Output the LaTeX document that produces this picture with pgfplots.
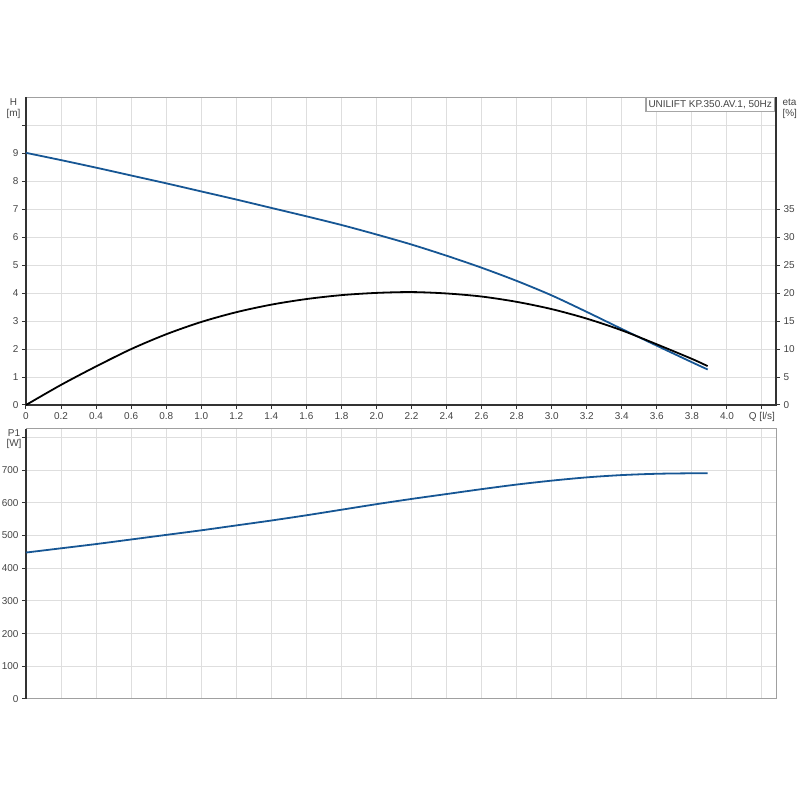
\documentclass[border=0pt]{standalone}
\usepackage{fontspec}
\setmainfont{Liberation Sans}
\usepackage{pgfplots}
\pgfplotsset{compat=1.18}

\definecolor{curveblue}{RGB}{22,86,148}
\definecolor{gridgray}{RGB}{222,222,222}
\definecolor{boxgray}{RGB}{160,160,160}
\definecolor{axisdark}{RGB}{51,51,51}
\definecolor{labelgray}{RGB}{68,68,68}

% H [m] over Q [l/s]
\pgfplotstableread{
Q H
0 9.02
0.2 8.76
0.4 8.49
0.6 8.21
0.8 7.93
1.0 7.64
1.2 7.35
1.4 7.05
1.6 6.75
1.8 6.44
2.0 6.10
2.2 5.74
2.4 5.34
2.6 4.91
2.8 4.44
3.0 3.92
3.2 3.33
3.4 2.72
3.6 2.12
3.8 1.53
3.89 1.27
}\headtable

% eta [%] over Q [l/s]
\pgfplotstableread{
Q eta
0 0
0.2 3.6
0.4 6.9
0.6 10.0
0.8 12.65
1.0 14.85
1.2 16.6
1.4 17.95
1.6 18.95
1.8 19.65
2.0 20.05
2.2 20.2
2.4 19.95
2.6 19.4
2.8 18.45
3.0 17.15
3.2 15.45
3.4 13.35
3.6 10.85
3.8 8.25
3.89 6.95
}\etatable

% P1 [W] over Q [l/s]
\pgfplotstableread{
Q P
0 448
0.2 461
0.4 474
0.6 488
0.8 502
1.0 516
1.2 531
1.4 546
1.6 562
1.8 579
2.0 596
2.2 612
2.4 627
2.6 642
2.8 656
3.0 668
3.2 678
3.4 685
3.6 689
3.8 690.5
3.89 690.5
}\powertable

\pgfplotsset{
  pumpbase/.style={
    scale only axis,
    width=750bp,
    xmin=0, xmax=4.28,
    xtick={0,0.2,...,4.2},
    grid=major,
    major grid style={gridgray, line width=1bp},
    axis line style={boxgray, line width=1bp},
    tick align=outside,
    major tick length=4bp,
    every tick/.style={axisdark, line width=1bp},
    tick label style={font=\fontsize{10}{12}\selectfont, text=labelgray},
    /pgf/number format/assume math mode=true,
    xtick pos=lower,
    ytick pos=left,
    clip=false,
  },
  pumpline/.style={line width=1.8bp, smooth},
}

\begin{document}
\begin{tikzpicture}
\useasboundingbox (0,0) rectangle (800bp,800bp);

% upper panel: H and eta
\begin{axis}[
  pumpbase,
  at={(26bp,395bp)}, anchor=south west,
  height=307.5bp,
  ymin=0, ymax=11,
  ytick={0,...,10},
  yticklabels={0,1,2,3,4,5,6,7,8,9,},
  xticklabels={0,0.2,0.4,0.6,0.8,1.0,1.2,1.4,1.6,1.8,2.0,2.2,2.4,2.6,2.8,3.0,3.2,3.4,3.6,3.8,4.0,{Q [l/s]}},
]
\draw[axisdark, line width=1.3bp] (rel axis cs:0,1) -- (rel axis cs:0,0) -- (rel axis cs:1,0) -- (rel axis cs:1,1);
\addplot[curveblue, pumpline] table[x=Q, y=H] {\headtable};
\node[anchor=north east, draw=boxgray, fill=white, inner sep=2.5bp,
      font=\fontsize{10}{12}\selectfont, text=labelgray] (legbox)
  at ([xshift=-1.5bp]rel axis cs:1,1) {UNILIFT KP.350.AV.1, 50Hz};
\draw[gray!70, line width=1.2bp] ([xshift=-0.6bp]legbox.north west) -- ([xshift=-0.6bp, yshift=-0.6bp]legbox.south west) -- ([yshift=-0.6bp]legbox.south east);
\node[align=center, font=\fontsize{10}{11}\selectfont, text=labelgray]
  at ([xshift=-12.5bp, yshift=-11bp]rel axis cs:0,1) {H\\{[m]}};
\node[align=left, anchor=west, font=\fontsize{10}{11}\selectfont, text=labelgray]
  at ([xshift=3bp, yshift=-11bp]rel axis cs:1,1) {eta\\{[\%]}};
\end{axis}

\begin{axis}[
  pumpbase,
  at={(26bp,395bp)}, anchor=south west,
  height=307.5bp,
  ymin=0, ymax=55,
  axis x line=none,
  axis y line*=right,
  ytick={0,5,...,35},
  grid=none,
  ytick pos=right,
  axis line style={draw=none},
]
\addplot[black, pumpline] table[x=Q, y=eta] {\etatable};
\end{axis}

% lower panel: P1
\begin{axis}[
  pumpbase,
  at={(26bp,101bp)}, anchor=south west,
  height=270bp,
  ymin=0, ymax=826,
  ytick={0,100,...,800},
  yticklabels={0,100,200,300,400,500,600,700,},
  xticklabels={},
  x tick style={draw=none},
]
\draw[axisdark, line width=1.3bp] (rel axis cs:0,1) -- (rel axis cs:0,0);
\addplot[curveblue, pumpline] table[x=Q, y=P] {\powertable};
\node[align=center, font=\fontsize{10}{11}\selectfont, text=labelgray]
  at ([xshift=-12bp]axis cs:0,795) {P1\\{[W]}};
\end{axis}
\end{tikzpicture}
\end{document}
